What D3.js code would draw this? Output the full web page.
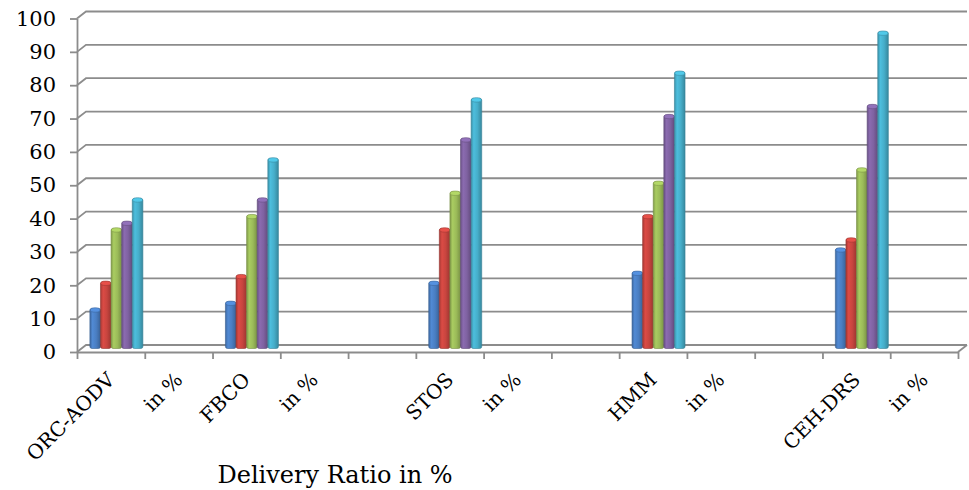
<!DOCTYPE html>
<html><head><meta charset="utf-8">
<script src="https://cdn.jsdelivr.net/npm/d3@7"></script>
<style>body{margin:0;background:#fff}</style>
</head><body><svg id="c" width="969" height="490"></svg>
<script>
const categories = ["ORC-AODV","in %","FBCO","in %","","STOS","in %","","HMM","in %","","CEH-DRS","in %"];
const seriesColors = ["#4a7ec2","#c8453f","#9bbb59","#7f62a1","#46aeca"];
const series1 = [12,null,14,null,null,20,null,null,23,null,null,30,null];
const series2 = [20,null,22,null,null,36,null,null,40,null,null,33,null];
const series3 = [36,null,40,null,null,47,null,null,50,null,null,54,null];
const series4 = [38,null,45,null,null,63,null,null,70,null,null,73,null];
const series5 = [45,null,57,null,null,75,null,null,83,null,null,95,null];
const yTicks = [0,10,20,30,40,50,60,70,80,90,100];
const axisTitle = "Delivery Ratio in %";

const allSeries = [series1,series2,series3,series4,series5];
const svg = d3.select("#c");
const font = "'DejaVu Serif', serif";
const grid = "#8c8c8c";
const DX = 9, DY = -7;

const x = d3.scaleBand().domain(d3.range(categories.length)).range([77,958]).padding(0);
const xb = d3.scaleLinear().domain([0,categories.length]).range([77,958]);
const y = d3.scaleLinear().domain([0,100]).range([352,18.5]);

// back wall gridlines + left wall slants
const g = svg.append("g");
yTicks.forEach(t => {
  g.append("path")
   .attr("d", `M${x.range()[0]},${y(t)} L${x.range()[0]+DX},${y(t)+DY} L${x.range()[1]+DX},${y(t)+DY}`)
   .attr("fill","none").attr("stroke",grid).attr("stroke-width",1.8);
});
// floor right edge
g.append("path")
 .attr("d", `M${x.range()[1]},${y(0)} L${x.range()[1]+DX},${y(0)+DY}`)
 .attr("fill","none").attr("stroke",grid).attr("stroke-width",1.8);

// y axis
const yAx = svg.append("g").attr("transform","translate(77,0)")
  .call(d3.axisLeft(y).tickValues(yTicks).tickSize(7).tickSizeOuter(0).tickPadding(14));
yAx.selectAll("path,line").attr("stroke",grid).attr("stroke-width",1.8);
yAx.selectAll("text").attr("font-family",font).attr("font-size",21).attr("fill","#000");

// x axis (band boundaries)
const xAx = svg.append("g").attr("transform",`translate(0,${y(0)})`)
  .call(d3.axisBottom(xb).tickValues(d3.range(categories.length+1)).tickFormat("").tickSize(7).tickSizeOuter(0));
xAx.selectAll("path,line").attr("stroke",grid).attr("stroke-width",1.8);

// gradients
const defs = svg.append("defs");
seriesColors.forEach((c,i) => {
  const base = d3.color(c);
  const gr = defs.append("linearGradient").attr("id","g"+i).attr("x1","0").attr("x2","1").attr("y1","0").attr("y2","0");
  gr.append("stop").attr("offset","0").attr("stop-color", base.darker(0.5));
  gr.append("stop").attr("offset","0.25").attr("stop-color", base.brighter(0.25));
  gr.append("stop").attr("offset","0.6").attr("stop-color", base);
  gr.append("stop").attr("offset","1").attr("stop-color", base.darker(0.7));
});

// bars
const groupW = 53;
const xs = d3.scaleBand().domain(d3.range(allSeries.length)).range([0,groupW]);
const bars = svg.append("g");
categories.forEach((cat, ci) => {
  allSeries.forEach((s, si) => {
    const v = s[ci];
    if (v == null) return;
    const bx = x(ci) + (x.bandwidth()-groupW)/2 + 5.5 + xs(si);
    const w = xs.bandwidth();
    const top = y(v) - 3.5, bot = y(0) - 3.5;
    const col = d3.color(seriesColors[si]);
    bars.append("rect").attr("x",bx).attr("y",top).attr("width",w).attr("height",bot-top)
      .attr("rx",2).attr("fill",`url(#g${si})`).attr("stroke",col.darker(0.8)).attr("stroke-width",0.6);
    bars.append("ellipse").attr("cx",bx+w/2).attr("cy",top+1.5).attr("rx",w/2-0.3).attr("ry",2.2)
      .attr("fill",col.brighter(0.4)).attr("stroke",col.darker(0.6)).attr("stroke-width",0.6);
  });
});

// category labels
svg.append("g").selectAll("text").data(categories).join("text")
  .attr("transform",(d,i)=>`translate(${x(i)+x.bandwidth()/2+5},${381}) rotate(-45)`)
  .attr("text-anchor","end")
  .attr("font-family",font).attr("font-size",20).attr("fill","#000")
  .text(d=>d);

// axis title
svg.append("text").attr("x",335).attr("y",483).attr("text-anchor","middle")
  .attr("font-family",font).attr("font-size",24).attr("fill","#000").text(axisTitle);
</script></body></html>
